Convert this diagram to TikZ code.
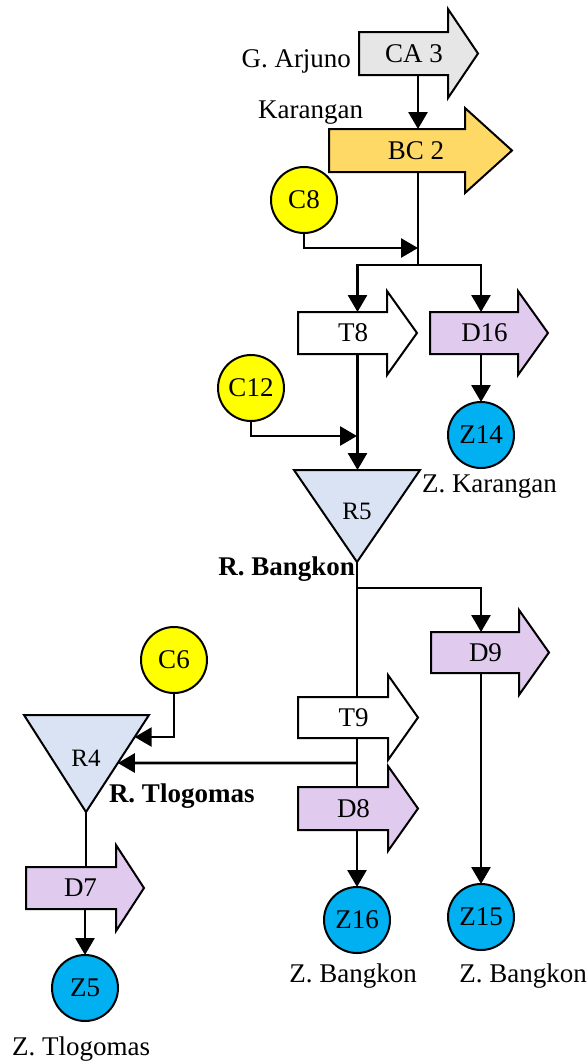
\documentclass[tikz,border=0pt]{standalone}
\usepackage{fontspec}
\setmainfont{Liberation Serif}
\usetikzlibrary{arrows.meta,calc}

\definecolor{cagray}{HTML}{E7E6E6}
\definecolor{bcgold}{HTML}{FFD966}
\definecolor{divlilac}{HTML}{E0CBEE}
\definecolor{resblue}{HTML}{DAE3F3}
\definecolor{inyellow}{HTML}{FFFF00}
\definecolor{zoneblue}{HTML}{00B0F0}

\tikzset{
  shapeline/.style={draw=black, line width=2pt, line join=miter},
  txt/.style={inner sep=0pt, outer sep=0pt, font=\fontsize{27}{31}\selectfont},
  arrlbl/.style={txt, execute at begin node={\hspace*{-9pt}}},
  rlbl/.style={inner sep=0pt, outer sep=0pt, font=\fontsize{25}{29}\selectfont},
  caption/.style={txt},
  bcaption/.style={inner sep=0pt, outer sep=0pt, font=\fontsize{27}{31}\selectfont\bfseries},
  inflow/.style={circle, draw=black, line width=2pt, fill=inyellow,
    minimum size=66pt, inner sep=0pt, outer sep=0pt, font=\fontsize{27}{31}\selectfont},
  zone/.style={inflow, fill=zoneblue},
  link/.style={line width=2.8pt},
  flow/.style={link, -{Triangle[length=17pt,width=19pt]}},
}

% block arrow: name, fill, x left, x head base, x tip, y top, y bottom, head extend, text
\newcommand\flowarr[9]{%
  \draw[shapeline, fill=#2] (#3,#6) -- (#4,#6) -- (#4,{#6-#8}) -- (#5,{(#6+#7)/2})
    -- (#4,{#7+#8}) -- (#4,#7) -- (#3,#7) -- cycle;
  \node[arrlbl, minimum width={#5-#3}, minimum height={#7-#6}] (#1)
    at ({(#3+#5)/2},{(#6+#7)/2}) {#9};
}
% reservoir triangle: name, x left, x right, y top, x apex, y apex
\newcommand\reservoir[6]{%
  \coordinate (#1l) at (#2,#4);
  \coordinate (#1r) at (#3,#4);
  \coordinate (#1b) at (#5,#6);
  \draw[shapeline, fill=resblue] (#1l) -- (#1r) -- (#1b) -- cycle;
  \node[rlbl] (#1) at ({#5},{#4+0.45*(#6-#4)}) {#1};
}

\begin{document}
\begin{tikzpicture}[x=1pt, y=-1pt]
\useasboundingbox (0,0) rectangle (587,1061);

% canals and rivers
\flowarr{CA3}{cagray}{359}{448}{478}{32}{75}{23}{CA 3}
\flowarr{BC2}{bcgold}{329}{465}{512}{129}{172}{21}{BC 2}
\flowarr{T8}{white}{298}{387}{417}{312}{354}{21}{T8}
\flowarr{D16}{divlilac}{430}{518}{548}{312}{354}{21}{D16}
\flowarr{D9}{divlilac}{431}{519}{549}{632}{673}{22}{D9}
\flowarr{T9}{white}{298}{388}{418}{697}{738}{22}{T9}
\flowarr{D8}{divlilac}{298}{388}{418}{787}{830}{21}{D8}
\flowarr{D7}{divlilac}{26}{116}{144}{867}{909}{22}{D7}

% reservoirs
\reservoir{R5}{294}{420}{470}{357}{562}
\reservoir{R4}{24}{149}{715}{86}{812}

% inflows and service zones
\node[inflow] (C8) at (304,200) {C8};
\node[inflow] (C12) at (251,388) {C12};
\node[inflow] (C6) at (174,660) {C6};
\node[zone] (Z14) at (481,435) {Z14};
\node[zone] (Z16) at (357,920) {Z16};
\node[zone] (Z15) at (481,917) {Z15};
\node[zone] (Z5) at (85,988) {Z5};

% place names
\node[caption, anchor=base east] (lArjuno) at (351,67) {G. Arjuno};
\node[caption, anchor=base east] (lKarangan) at (363,118) {Karangan};
\node[caption, anchor=base west] (lZKarangan) at (422,492) {Z. Karangan};
\node[bcaption, anchor=base east] (lRBangkon) at (355,575) {R. Bangkon};
\node[bcaption, anchor=base west] (lRTlogomas) at (109,802) {R. Tlogomas};
\node[caption, anchor=base] (lZBangkonA) at (353,982) {Z. Bangkon};
\node[caption, anchor=base] (lZBangkonB) at (523,982) {Z. Bangkon};
\node[caption, anchor=base] (lZTlogomas) at (81,1055) {Z. Tlogomas};

% junction points
\coordinate (j1) at (418,265);
\coordinate (m1) at (418,248);
\coordinate (m2) at (357,436);
\coordinate (j2) at (357,588);
\coordinate (j4) at (357,763);
\coordinate (w4) at (j4 -| R4l);
\coordinate (m3) at (174,737);
\coordinate (w3) at (m3 -| R4l);

% connectors
\draw[flow] (CA3.south -| j1) -- (BC2.north -| j1);
\draw[link] (BC2.south -| j1) -- (j1);
\draw[flow] (C8.south) |- (m1);
\draw[flow] (j1) -| (T8.north);
\draw[flow] (j1) -| (D16.north -| Z14.north);
\draw[flow] (D16.south -| Z14.north) -- (Z14.north);
\draw[flow] (T8.south) -- (R5l -| T8.south);
\draw[flow] (C12.south) |- (m2);
\draw[link] (R5b) -- (T9.north -| R5b);
\draw[flow] (j2) -| (D9.north -| Z15.north);
\draw[flow] (D9.south -| Z15.north) -- (Z15.north);
\draw[link] (T9.south -| R5b) -- (D8.north -| R5b);
\draw[flow] (j4) -- (intersection of R4r--R4b and j4--w4);
\draw[flow] (C6.south) |- (intersection of R4r--R4b and m3--w3);
\draw[flow] (D8.south -| Z16.north) -- (Z16.north);
\draw[link] (R4b) -- (D7.north -| R4b);
\draw[flow] (D7.south -| Z5.north) -- (Z5.north);
\end{tikzpicture}
\end{document}
